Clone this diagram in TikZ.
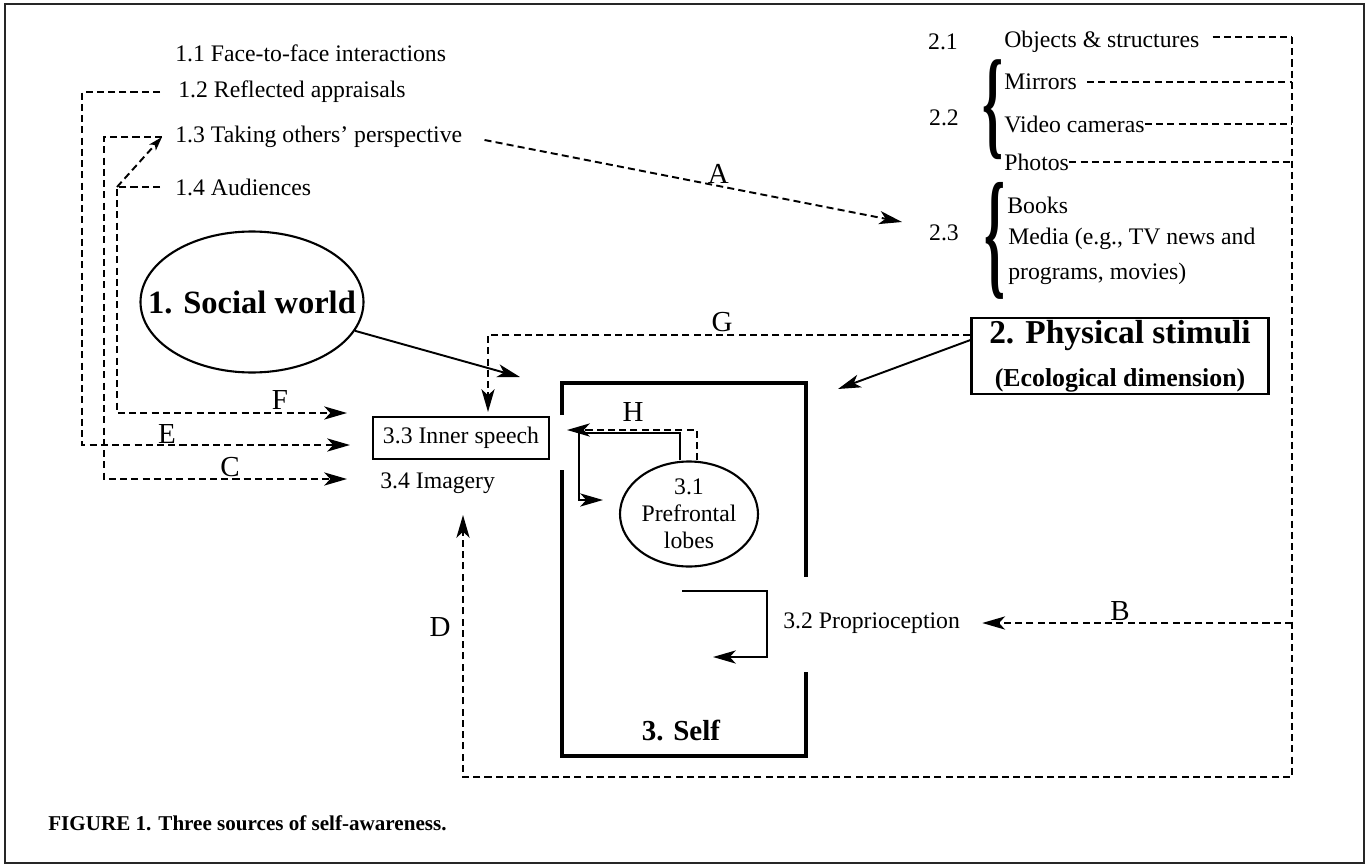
\documentclass[tikz,border=0pt]{standalone}
\usepackage{fontspec}
\setmainfont{Liberation Serif}
\usetikzlibrary{positioning}
\usetikzlibrary{shapes}
\usetikzlibrary{arrows.meta}

\begin{document}
\begin{tikzpicture}[x=0.02cm, y=-0.02cm]

\def\px{0.02cm}
\def\BaseFont{\fontsize{13.5}{16}\selectfont}
\def\LetterFont{\fontsize{16.5}{18}\selectfont}
\def\SocialFont{\fontsize{18.5}{20}\selectfont\bfseries}
\def\PhysFont{\fontsize{19}{24.4}\selectfont\bfseries}
\def\EcoFont{\fontsize{14.7}{24.4}\selectfont\bfseries}
\def\SelfFont{\fontsize{16.5}{18}\selectfont\bfseries}
\def\CaptionFont{\fontsize{12}{14}\selectfont\bfseries}

% Styles
\tikzstyle{txt} =
	[font=\BaseFont, inner sep=0pt]

\tikzstyle{entry} =
	[txt, anchor=west]

\tikzstyle{letter} =
	[font=\LetterFont, inner sep=0pt]

\tikzstyle{brace} =
	[inner sep=0pt, font=\BaseFont\bfseries]

\tikzstyle{link} =
	[line width=1.1pt, dash pattern=on 4pt off 2.4pt]

\tikzstyle{flow} =
	[link, -{Stealth[length=13pt, width=7.5pt, inset=3.5pt]}]

\tikzstyle{solid flow} =
	[line width=1.1pt, -{Stealth[length=13pt, width=7.5pt, inset=3.5pt]}]

\tikzstyle{wall} =
	[line width=2.8pt]

\useasboundingbox (0,0) rectangle (1366,865);
\draw[line width=1.2pt, black!85] (5,4) rectangle (1364,863);

% Social world

\node (Face) [entry] at (175,53) {1.1 Face-to-face interactions};
\node (Reflected) [entry] at (178,92) {1.2 Reflected appraisals};
\node (Perspective) [entry] at (175,137) {1.3 Taking others' perspective};
\node (Audiences) [entry] at (175,187) {1.4 Audiences};

\node (Social) [ellipse, draw, line width=1.2pt,
	minimum width=223*\px, minimum height=141*\px] at (252,302) {};
\node (SocialText) [font=\SocialFont, inner sep=0pt] at (Social) {1. Social world};

% Physical stimuli

\node (n21) [txt] at (943,42) {2.1};
\node (Objects) [entry] at (1004,42) {Objects \& structures};
\node (n22) [txt] at (944,118) {2.2};
\node (Brace22) [brace] at (993,110) {\resizebox*{0.42cm}{2cm}{\{}};
\node (Mirrors) [entry] at (1004,82) {Mirrors};
\node (Video) [entry] at (1004,124) {Video cameras};
\node (Photos) [entry] at (1004,162) {Photos};
\node (n23) [txt] at (944,233) {2.3};
\node (Brace23) [brace] at (995,241) {\resizebox*{0.42cm}{2.34cm}{\{}};
\node (Books) [entry] at (1007,205) {Books};
\node (Media) [entry, align=left, font=\fontsize{13.5}{19.8}\selectfont]
	at (1008,256) {Media (e.g., TV news and\\programs, movies)};

\coordinate (Trunk) at (1292,37);

\path[link]
	([xshift=13*\px, yshift=5*\px]Objects.east) edge (Trunk)
	([xshift=10*\px]Mirrors.east) edge (Mirrors.east -| Trunk)
	(Video.east) edge (Video.east -| Trunk)
	(Photos.east) edge (Photos.east -| Trunk);

% trunk down to D and B
\draw[flow] (Trunk) -| (1292,777) -| (463,515);
\node (LabD) [letter] at (440,627) {D};

\node (Physical) [draw, line width=1.2pt, fill=white, align=center, inner sep=0pt,
	font=\PhysFont, minimum width=297*\px, minimum height=76*\px] at (1120,356)
	{2. Physical stimuli\\{\EcoFont (Ecological dimension)}};

% Self

\draw[wall] (562,415) -- (562,383) -- (806,383) -- (806,577);
\draw[wall] (562,470) -- (562,756) -- (806,756) -- (806,672);
\node (Self) [font=\SelfFont, inner sep=0pt] at (681,730) {3. Self};

\node (Inner) [txt, draw, line width=0.7pt, minimum width=176*\px, minimum height=42*\px]
	at (461,438) {3.3 Inner speech};
\node (Imagery) [entry] at (380,483) {3.4 Imagery};
\node (Prefrontal) [ellipse, draw, line width=1.2pt,
	minimum width=138*\px, minimum height=105*\px] at (689,514) {};
\node (PrefrontalText) [txt, align=center, font=\fontsize{13.5}{15.5}\selectfont]
	at (Prefrontal) {3.1\\Prefrontal\\lobes};
\node (Proprio) [entry] at (783,623) {3.2 Proprioception};

% Edges

\coordinate (FEnd) at (347,413);
\coordinate (EEnd) at (350,445);
\coordinate (CEnd) at (347,479);

\draw[flow] ([xshift=-18*\px]Reflected.west) -| (82,445) -- (EEnd);
\draw[flow] ([xshift=-13*\px]Perspective.west) -| (104,479) -- (CEnd);
\draw[flow] ([xshift=-15*\px]Audiences.west) -| (117,413) -- (FEnd);
\draw[link, -{Stealth[length=8pt, width=5pt, inset=2pt]}]
	(117,187) -- ([xshift=-13*\px]Perspective.west);

\node (LabF) [letter] at (280,400) {F};
\node (LabE) [letter] at (167,434) {E};
\node (LabC) [letter] at (230,467) {C};

\draw[flow] ([xshift=22*\px, yshift=-3*\px]Perspective.east) -- (902,222)
	node (LabA) [letter, pos=0.56, above=1pt] {A};

\draw[flow] ([yshift=21*\px]Physical.west) -| (488,412);
\node (LabG) [letter] at (722,322) {G};

\draw[solid flow] ([yshift=16*\px]Physical.west) -- (838,389);
\draw[solid flow] (Social) -- (520,377);

\draw[flow] (1292,623) -- ([xshift=22*\px]Proprio.east);
\node (LabB) [letter] at (1120,611) {B};

\draw[solid flow] ([xshift=-9*\px]Prefrontal.north) |- (579,433) |- (603,500);
\draw[flow] ([xshift=8*\px]Prefrontal.north) |- (567,430);
\node (LabH) [letter] at (633,412) {H};

\coordinate (PropStart) at (682,591);
\coordinate (PropEnd) at (713,657);
\draw[solid flow] (PropStart) -| (767,657) -- (PropEnd);

\node (Caption) [anchor=west, font=\CaptionFont, inner sep=0pt] at (48,823)
	{FIGURE 1. Three sources of self-awareness.};

\end{tikzpicture}
\end{document}
